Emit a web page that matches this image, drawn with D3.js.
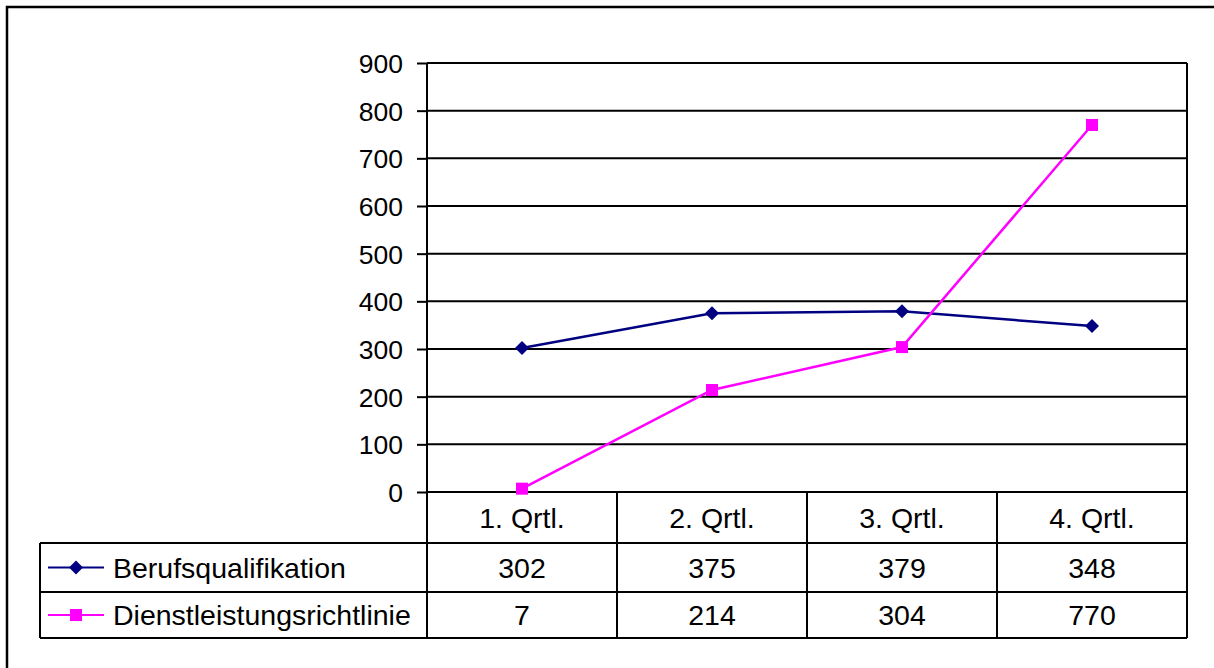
<!DOCTYPE html>
<html lang="de">
<head>
  <meta charset="UTF-8">
  <title>Berufsqualifikation / Dienstleistungsrichtlinie</title>
  <script src="https://d3js.org/d3.v7.min.js"></script>
  <style>
    body {
      margin: 0;
      background-color: #ffffff;
      font-family: "Liberation Sans", Arial, sans-serif;
    }
    svg { display: block; }
    .cell { font-size: 28.5px; fill: #000; }
  </style>
</head>
<body>
  <svg id="chart"></svg>
  <script>
    // Data
    const categories = ["1. Qrtl.", "2. Qrtl.", "3. Qrtl.", "4. Qrtl."];
    const berufsqualifikation = [302, 375, 379, 348];
    const dienstleistung = [7, 214, 304, 770];
    const yTicks = [0, 100, 200, 300, 400, 500, 600, 700, 800, 900];

    const series = [
      { name: "Berufsqualifikation", values: berufsqualifikation, color: "#000080", marker: "diamond" },
      { name: "Dienstleistungsrichtlinie", values: dienstleistung, color: "#ff00ff", marker: "square" }
    ];

    const W = 1214, H = 668;
    const plot = { left: 427, right: 1187, top: 63, bottom: 492 };
    const tableLeft = 40;
    const rowLines = [492, 543, 592, 638]; // header, row1, row2, bottom

    const svg = d3.select("#chart").attr("width", W).attr("height", H);

    // outer frame (cut off at right and bottom as in the reference)
    svg.append("rect")
      .attr("x", 7).attr("y", 7)
      .attr("width", 1230).attr("height", 690)
      .attr("fill", "none").attr("stroke", "#000").attr("stroke-width", 2.5);

    const x = d3.scaleBand().domain(categories).range([plot.left, plot.right]);
    const y = d3.scaleLinear().domain([0, 900]).range([plot.bottom, plot.top]);

    // gridlines
    svg.append("g").selectAll("line")
      .data(yTicks)
      .join("line")
      .attr("x1", plot.left).attr("x2", plot.right)
      .attr("y1", d => y(d)).attr("y2", d => y(d))
      .attr("stroke", "#000").attr("stroke-width", 2);

    // y axis
    const yAxis = svg.append("g")
      .attr("transform", `translate(${plot.left},0)`)
      .call(d3.axisLeft(y).tickValues(yTicks).tickSize(10).tickPadding(14));
    yAxis.select(".domain").remove();
    yAxis.selectAll(".tick line").attr("stroke", "#000").attr("stroke-width", 2);
    yAxis.selectAll(".tick text")
      .attr("font-family", "'Liberation Sans', Arial, sans-serif")
      .attr("font-size", 26.5).attr("fill", "#000").attr("dy", "0.36em");

    // plot frame
    svg.append("line")
      .attr("x1", plot.left).attr("x2", plot.left)
      .attr("y1", plot.top).attr("y2", rowLines[3])
      .attr("stroke", "#000").attr("stroke-width", 2);
    svg.append("line")
      .attr("x1", plot.right).attr("x2", plot.right)
      .attr("y1", plot.top).attr("y2", rowLines[3])
      .attr("stroke", "#000").attr("stroke-width", 2);

    // data table
    const table = svg.append("g");
    table.selectAll("line.vcat")
      .data(categories.slice(1))
      .join("line")
      .attr("class", "vcat")
      .attr("x1", d => x(d)).attr("x2", d => x(d))
      .attr("y1", rowLines[0]).attr("y2", rowLines[3])
      .attr("stroke", "#000").attr("stroke-width", 2);
    table.selectAll("line.hrow")
      .data(rowLines.slice(1))
      .join("line")
      .attr("class", "hrow")
      .attr("x1", tableLeft).attr("x2", plot.right)
      .attr("y1", d => d).attr("y2", d => d)
      .attr("stroke", "#000").attr("stroke-width", 2);
    table.append("line")
      .attr("x1", tableLeft).attr("x2", tableLeft)
      .attr("y1", rowLines[1]).attr("y2", rowLines[3])
      .attr("stroke", "#000").attr("stroke-width", 2);

    // header labels
    table.selectAll("text.head")
      .data(categories)
      .join("text")
      .attr("class", "cell head")
      .attr("x", d => x(d) + x.bandwidth() / 2)
      .attr("y", (rowLines[0] + rowLines[1]) / 2)
      .attr("dy", "0.36em")
      .attr("text-anchor", "middle")
      .text(d => d);

    function marker(sel, type, color) {
      if (type === "diamond") {
        sel.append("path").attr("d", "M0,-7L7,0L0,7L-7,0Z").attr("fill", color);
      } else {
        sel.append("rect").attr("x", -6).attr("y", -6).attr("width", 12).attr("height", 12).attr("fill", color);
      }
    }

    series.forEach((s, i) => {
      const rowY = (rowLines[i + 1] + rowLines[i + 2]) / 2;

      // legend key
      table.append("line")
        .attr("x1", 48).attr("x2", 104)
        .attr("y1", rowY).attr("y2", rowY)
        .attr("stroke", s.color).attr("stroke-width", 2);
      marker(table.append("g").attr("transform", `translate(76,${rowY})`), s.marker, s.color);
      table.append("text")
        .attr("class", "cell")
        .attr("x", 113).attr("y", rowY).attr("dy", "0.36em")
        .text(s.name);

      // values
      table.selectAll(null)
        .data(s.values)
        .join("text")
        .attr("class", "cell")
        .attr("x", (d, j) => x(categories[j]) + x.bandwidth() / 2)
        .attr("y", rowY).attr("dy", "0.36em")
        .attr("text-anchor", "middle")
        .text(d => d);

      // line + markers
      const line = d3.line()
        .x((d, j) => x(categories[j]) + x.bandwidth() / 2)
        .y(d => y(d));
      svg.append("path")
        .datum(s.values)
        .attr("d", line)
        .attr("fill", "none")
        .attr("stroke", s.color)
        .attr("stroke-width", 2.5);
      s.values.forEach((v, j) => {
        marker(svg.append("g")
          .attr("transform", `translate(${x(categories[j]) + x.bandwidth() / 2},${y(v)})`), s.marker, s.color);
      });
    });
  </script>
</body>
</html>
